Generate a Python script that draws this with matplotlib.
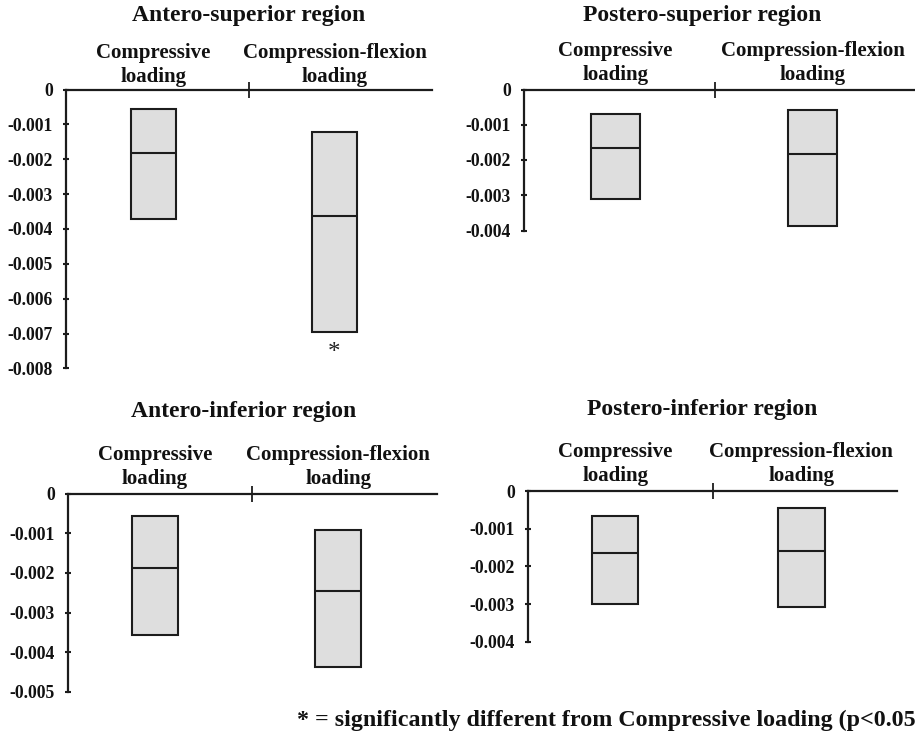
import matplotlib
matplotlib.use("Agg")
import matplotlib.pyplot as plt

plt.rcParams['font.family'] = ['Liberation Serif', 'DejaVu Serif']
plt.rcParams['font.weight'] = 'bold'

# ---- data ----
categories = ["Compressive\nloading", "Compression-flexion\nloading"]
titles = ["Antero-superior region", "Postero-superior region",
          "Antero-inferior region", "Postero-inferior region"]

# per panel: [Compressive, Compression-flexion]
box_top = [[-0.00055, -0.00122], [-0.00070, -0.00059],
           [-0.00057, -0.00091], [-0.00066, -0.00044]]
box_median = [[-0.00182, -0.00363], [-0.00166, -0.00184],
              [-0.00188, -0.00246], [-0.00164, -0.00159]]
box_bottom = [[-0.00371, -0.00695], [-0.00312, -0.00387],
              [-0.00357, -0.00437], [-0.00301, -0.00309]]
y_min = [-0.008, -0.004, -0.005, -0.004]
y_ticks = [
    [0, -0.001, -0.002, -0.003, -0.004, -0.005, -0.006, -0.007, -0.008],
    [0, -0.001, -0.002, -0.003, -0.004],
    [0, -0.001, -0.002, -0.003, -0.004, -0.005],
    [0, -0.001, -0.002, -0.003, -0.004],
]
y_ticklabels = [["0" if t == 0 else f"{t:.3f}" for t in ticks] for ticks in y_ticks]
significant = [[False, True], [False, False], [False, False], [False, False]]
footnote = "* = significantly different from Compressive loading (p<0.05"

# ---- layout (pixels) ----
W, H = 915, 740
# left, right, y_of_zero, y_of_min
axes_px = [(66, 432, 89.5, 368.4), (524, 915, 89.5, 230.5),
           (68, 437, 493.7, 691.7), (528.3, 897, 491.0, 641.7)]
xlims = [(0, 2), (0, 2.05), (0, 2), (0, 2)]
box_x = [[0.478, 1.467], [0.48, 1.513], [0.47, 1.464], [0.471, 1.481]]
box_w = [0.246, 0.257, 0.249, 0.253]
title_px = [(249, 16), (702, 16), (244, 412), (702, 409)]
cat_label_y = [65, 63, 467, 464]  # center of two-line label

fig = plt.figure(figsize=(W / 100, H / 100), dpi=100)
fig.patch.set_facecolor('white')

line_c = '#1c1c1c'
fill_c = '#dedede'

for i in range(4):
    l, r, y0, y1 = axes_px[i]
    ax = fig.add_axes([l / W, 1 - y1 / H, (r - l) / W, (y1 - y0) / H])
    ax.set_xlim(*xlims[i])
    ax.set_ylim(y_min[i], 0)
    for s in ['right', 'bottom']:
        ax.spines[s].set_visible(False)
    for s in ['left', 'top']:
        ax.spines[s].set_color(line_c)
        ax.spines[s].set_linewidth(1.6)
    ax.set_facecolor('none')
    ax.patch.set_alpha(0)

    heights = [box_top[i][j] - box_bottom[i][j] for j in range(2)]
    ax.bar(box_x[i], heights, bottom=box_bottom[i], width=box_w[i],
           color=fill_c, edgecolor=line_c, linewidth=1.5, zorder=2)
    for j in range(2):
        ax.hlines(box_median[i][j], box_x[i][j] - box_w[i] / 2,
                  box_x[i][j] + box_w[i] / 2, color=line_c, lw=1.5, zorder=3)
        if significant[i][j]:
            ax.text(box_x[i][j], box_bottom[i][j] - 0.00062, "*",
                    ha='center', va='center', fontsize=18, fontweight='normal',
                    color='#222')

    ax.set_yticks(y_ticks[i])
    ax.set_yticklabels(y_ticklabels[i])
    ax.tick_params(axis='y', direction='inout', length=5, width=1.5,
                   color=line_c, pad=7, labelsize=12.7, labelcolor='#111')
    ax.xaxis.tick_top()
    ax.set_xticks([1])
    ax.set_xticklabels([])
    ax.tick_params(axis='x', direction='inout', length=11, width=1.3, color=line_c)
    for lab in ax.get_yticklabels():
        lab.set_fontweight('bold')

    # category labels
    for j in range(2):
        xp = l + (box_x[i][j] - xlims[i][0]) / (xlims[i][1] - xlims[i][0]) * (r - l)
        fig.text(xp / W, 1 - cat_label_y[i] / H, categories[j], ha='center',
                 va='center', fontsize=15, fontweight='bold', color='#111',
                 linespacing=1.25)
    tx, ty = title_px[i]
    fig.text(tx / W, 1 - ty / H, titles[i], ha='center', va='center',
             fontsize=17, fontweight='bold', color='#111')

fig.text(297 / W, 1 - 726 / H, footnote, ha='left', va='baseline',
         fontsize=17.3, fontweight='bold', color='#111')

fig.savefig("out.png", dpi=100, facecolor='white')
